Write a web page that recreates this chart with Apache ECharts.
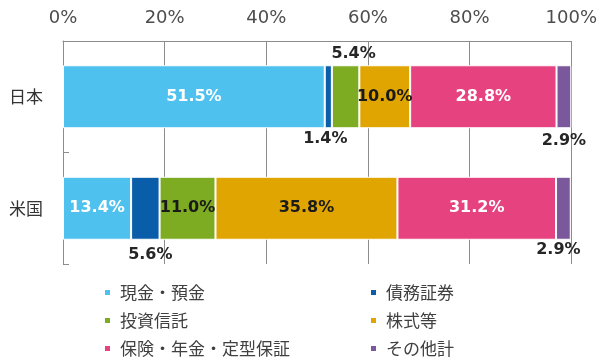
<!DOCTYPE html>
<html><head><meta charset="utf-8">
<script src="https://cdn.jsdelivr.net/npm/echarts@6/dist/echarts.min.js"></script>
<style>html,body{margin:0;padding:0;background:#fff}#c{width:600px;height:361px}</style>
</head><body><div id="c"></div>
<script>
const categories = ['日本', '米国'];
const seriesNames = ['現金・預金', '債務証券', '投資信託', '株式等', '保険・年金・定型保証', 'その他計'];
const cash      = [51.5, 13.4];
const bonds     = [1.4, 5.6];
const funds     = [5.4, 11.0];
const equities  = [10.0, 35.8];
const insurance = [28.8, 31.2];
const others    = [2.9, 2.9];
const xTicks = [0, 20, 40, 60, 80, 100];

const values = [cash, bonds, funds, equities, insurance, others];
const colors = ['#4FC1EE', '#0A5DA8', '#7DAB22', '#E0A500', '#E6427F', '#7A589B'];
const FONT = '"DejaVu Sans", "Noto Sans CJK JP", sans-serif';
const JFONT = '"Noto Sans CJK JP", sans-serif';

const inW = {show: true, position: 'inside', color: '#fff'};
const inB = {show: true, position: 'inside', color: '#1a1a1a'};
// label placement per series per category
const labelCfg = [
  [inW, inW],
  [{show: true, position: 'bottom', distance: 3, offset: [-3, 0], color: '#262626'},
   {show: true, position: 'bottom', distance: 7, offset: [5, 0], color: '#262626'}],
  [{show: true, position: 'top', distance: 3, offset: [8, 0], color: '#262626'}, inB],
  [inB, inB],
  [inW, inW],
  [{show: true, position: 'bottom', distance: 5, offset: [0, 0], color: '#262626'},
   {show: true, position: 'bottom', distance: 2, offset: [-5, 0], color: '#262626'}]
];

const series = seriesNames.map((name, i) => ({
  name, type: 'bar', stack: 'total', barWidth: 63,
  itemStyle: {color: colors[i], borderColor: '#fff', borderWidth: 1},
  label: {fontFamily: FONT, fontSize: 16, fontWeight: 'bold',
          formatter: p => p.value.toFixed(1) + '%'},
  data: values[i].map((v, j) => ({value: v, label: labelCfg[i][j]}))
}));

const legendBase = {
  orient: 'vertical', top: 284, padding: 0, height: 90,
  icon: 'rect', itemWidth: 7, itemHeight: 7, itemGap: 11,
  textStyle: {fontFamily: JFONT, fontSize: 17, color: '#404040', lineHeight: 17, padding: [0, 0, 0, 4]}
};

const chart = echarts.init(document.getElementById('c'), null, {renderer: 'canvas'});
chart.setOption({
  animation: false,
  grid: {left: 63, right: 28, top: 41, bottom: 97},
  xAxis: {
    type: 'value', position: 'top', min: xTicks[0], max: xTicks[xTicks.length - 1], interval: 20,
    axisLine: {show: true, lineStyle: {color: '#8c8c8c', width: 1}},
    axisTick: {show: false},
    splitLine: {show: true, lineStyle: {color: '#8c8c8c', width: 1}},
    axisLabel: {formatter: '{value}%', fontFamily: FONT, fontSize: 18, color: '#4d4d4d', margin: 14}
  },
  yAxis: {
    type: 'category', inverse: true, data: categories,
    axisLine: {show: true, lineStyle: {color: '#8c8c8c', width: 1}},
    axisTick: {show: true, inside: true, length: 6, lineStyle: {color: '#8c8c8c'}},
    axisLabel: {fontFamily: JFONT, fontSize: 17, color: '#333', margin: 20}
  },
  legend: [
    Object.assign({}, legendBase, {data: [seriesNames[0], seriesNames[2], seriesNames[4]], left: 103}),
    Object.assign({}, legendBase, {data: [seriesNames[1], seriesNames[3], seriesNames[5]], left: 369})
  ],
  series
});
</script></body></html>
